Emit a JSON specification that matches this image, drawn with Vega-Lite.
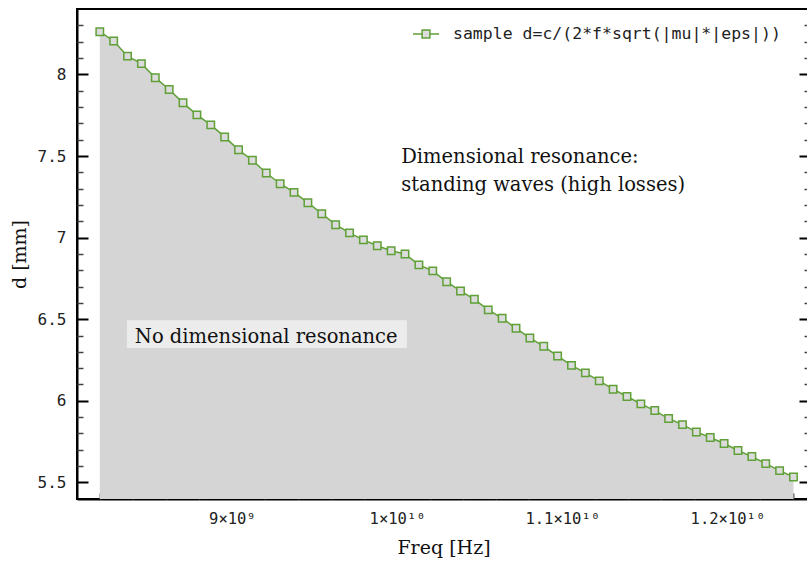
{
  "$schema": "https://vega.github.io/schema/vega-lite/v6.json",
  "width": 733,
  "height": 490,
  "padding": {"left": 10, "top": 9, "right": 0, "bottom": 5},
  "background": "white",
  "config": {
    "view": {"stroke": "black", "strokeWidth": 2},
    "axis": {"grid": false, "domainColor": "black", "domainWidth": 2, "zindex": 1, "labelOverlap": false}
  },
  "resolve": {"axis": {"x": "independent", "y": "independent"}},
  "datasets": {
    "curve": [
      {"f": 8200000000, "d": 8.262}, {"f": 8284000000, "d": 8.205}, {"f": 8368000000, "d": 8.112},
      {"f": 8452000000, "d": 8.066}, {"f": 8536000000, "d": 7.980}, {"f": 8620000000, "d": 7.908},
      {"f": 8704000000, "d": 7.826}, {"f": 8788000000, "d": 7.752}, {"f": 8872000000, "d": 7.691},
      {"f": 8956000000, "d": 7.617}, {"f": 9040000000, "d": 7.538}, {"f": 9124000000, "d": 7.474},
      {"f": 9208000000, "d": 7.396}, {"f": 9292000000, "d": 7.330}, {"f": 9376000000, "d": 7.277},
      {"f": 9460000000, "d": 7.214}, {"f": 9544000000, "d": 7.146}, {"f": 9628000000, "d": 7.079},
      {"f": 9712000000, "d": 7.029}, {"f": 9796000000, "d": 6.986}, {"f": 9880000000, "d": 6.950},
      {"f": 9964000000, "d": 6.919}, {"f": 10048000000, "d": 6.900}, {"f": 10132000000, "d": 6.833},
      {"f": 10216000000, "d": 6.796}, {"f": 10300000000, "d": 6.729}, {"f": 10384000000, "d": 6.673},
      {"f": 10468000000, "d": 6.622}, {"f": 10552000000, "d": 6.557}, {"f": 10636000000, "d": 6.506},
      {"f": 10720000000, "d": 6.444}, {"f": 10804000000, "d": 6.385}, {"f": 10888000000, "d": 6.334},
      {"f": 10972000000, "d": 6.274}, {"f": 11056000000, "d": 6.217}, {"f": 11140000000, "d": 6.171},
      {"f": 11224000000, "d": 6.122}, {"f": 11308000000, "d": 6.071}, {"f": 11392000000, "d": 6.026},
      {"f": 11476000000, "d": 5.981}, {"f": 11560000000, "d": 5.940}, {"f": 11644000000, "d": 5.891},
      {"f": 11728000000, "d": 5.854}, {"f": 11812000000, "d": 5.809}, {"f": 11896000000, "d": 5.775},
      {"f": 11980000000, "d": 5.738}, {"f": 12064000000, "d": 5.695}, {"f": 12148000000, "d": 5.658},
      {"f": 12232000000, "d": 5.615}, {"f": 12316000000, "d": 5.572}, {"f": 12400000000, "d": 5.533}
    ],
    "box": [{"f1": 8364400000, "f2": 10059300000, "d1": 6.3235, "d2": 6.493}],
    "note1": [{"f": 9207600000, "d": 6.356, "label": "No dimensional resonance"}],
    "note2": [{"f": 10024800000, "d": 7.459, "label": "Dimensional resonance:\nstanding waves (high losses)"}]
  },
  "layer": [
    {
      "data": {"name": "curve"},
      "mark": {"type": "area", "color": "#d5d5d5", "interpolate": "linear", "clip": true},
      "encoding": {
        "x": {
          "field": "f", "type": "quantitative",
          "scale": {"domain": [8062000000, 12500000000], "nice": false, "zero": false},
          "axis": {
            "orient": "bottom",
            "title": "Freq [Hz]",
            "titleFont": "DejaVu Serif", "titleFontSize": 19, "titleFontWeight": "normal", "titleColor": "#111",
            "titlePadding": 12,
            "labelOverlap": false,
            "values": [9000000000, 10000000000, 11000000000, 12000000000],
            "labelExpr": "datum.value == 9000000000 ? '9×10⁹' : datum.value == 10000000000 ? '1×10¹⁰' : datum.value == 11000000000 ? '1.1×10¹⁰' : '1.2×10¹⁰'",
            "labelFont": "DejaVu Sans Mono", "labelFontSize": 15.5, "labelColor": "#222",
            "labelPadding": 23,
            "tickSize": -11,
            "tickColor": {"condition": {"test": "datum.value > 0", "value": "black"}, "value": "black"},
            "tickWidth": {"condition": {"test": "datum.value > 0", "value": 2}, "value": 2},
            "grid": true, "gridColor": "black", "gridWidth": 2, "gridOpacity": 1, "gridDash": [0, 479, 11, 3000]
          }
        },
        "y": {
          "field": "d", "type": "quantitative",
          "scale": {"domain": [5.398, 8.401], "nice": false, "zero": false},
          "axis": {
            "orient": "left",
            "title": "d [mm]",
            "titleFont": "DejaVu Serif", "titleFontSize": 19, "titleFontWeight": "normal", "titleColor": "#111",
            "titlePadding": 7.7,
            "labelOverlap": false,
            "values": [5.5, 6, 6.5, 7, 7.5, 8],
            "labelExpr": "format(datum.value, '~g')",
            "labelFont": "DejaVu Sans Mono", "labelFontSize": 16, "labelColor": "#222",
            "labelPadding": 22,
            "tickSize": -11,
            "tickColor": {"condition": {"test": "datum.value > 0", "value": "black"}, "value": "black"},
            "tickWidth": {"condition": {"test": "datum.value > 0", "value": 2}, "value": 2},
            "grid": true, "gridColor": "black", "gridWidth": 2, "gridOpacity": 1, "gridDash": [0, 722, 11, 3000]
          }
        },
        "y2": {"datum": 5.398}
      }
    },
    {
      "data": {"name": "box"},
      "mark": {"type": "rect", "color": "#ececec"},
      "encoding": {
        "x": {"field": "f1", "type": "quantitative", "axis": null},
        "x2": {"field": "f2"},
        "y": {"field": "d1", "type": "quantitative", "axis": null},
        "y2": {"field": "d2"}
      }
    },
    {
      "data": {"name": "note1"},
      "mark": {"type": "text", "font": "DejaVu Serif", "fontSize": 19.5, "color": "#111", "align": "center", "baseline": "alphabetic"},
      "encoding": {
        "x": {"field": "f", "type": "quantitative", "axis": null},
        "y": {"field": "d", "type": "quantitative", "axis": null},
        "text": {"field": "label"}
      }
    },
    {
      "data": {"name": "note2"},
      "mark": {"type": "text", "font": "DejaVu Serif", "fontSize": 19.5, "color": "#111", "align": "left", "baseline": "alphabetic", "lineBreak": "\n", "lineHeight": 28},
      "encoding": {
        "x": {"field": "f", "type": "quantitative", "axis": null},
        "y": {"field": "d", "type": "quantitative", "axis": null},
        "text": {"field": "label"}
      }
    },
    {
      "data": {"name": "curve"},
      "mark": {"type": "line", "strokeWidth": 1.5},
      "encoding": {
        "x": {"field": "f", "type": "quantitative", "axis": null},
        "y": {"field": "d", "type": "quantitative", "axis": null},
        "color": {
          "datum": "sample d=c/(2*f*sqrt(|mu|*|eps|))",
          "type": "nominal",
          "scale": {"range": ["#5fa037"]},
          "legend": {
            "title": null, "orient": "none", "legendX": 335, "legendY": 11, "padding": 0,
            "symbolType": "M-1,0H-0.3M0.3,0H1M-0.3,-0.3H0.3V0.3H-0.3Z",
            "symbolSize": 676, "symbolStrokeWidth": 1.5, "symbolFillColor": "#dcdcdc",
            "labelFont": "DejaVu Sans Mono", "labelFontSize": 16.5, "labelColor": "#222", "labelOffset": 13, "labelLimit": 500
          }
        }
      }
    },
    {
      "data": {"name": "curve"},
      "mark": {"type": "point", "shape": "square", "size": 55, "filled": false, "fill": "#dcdcdc", "fillOpacity": 1, "stroke": "#5fa037", "strokeWidth": 1.5, "opacity": 1},
      "encoding": {
        "x": {
          "field": "f", "type": "quantitative",
          "axis": {
            "orient": "bottom", "title": null, "labels": false, "domain": false,
            "values": [8200000000, 8400000000, 8600000000, 8800000000, 9200000000, 9400000000, 9600000000, 9800000000, 10200000000, 10400000000, 10600000000, 10800000000, 11200000000, 11400000000, 11600000000, 11800000000, 12200000000, 12400000000],
            "tickSize": -6,
            "tickColor": {"condition": {"test": "datum.value > 0", "value": "#444"}, "value": "#444"},
            "tickWidth": {"condition": {"test": "datum.value > 0", "value": 1.5}, "value": 1.5},
            "grid": true, "gridColor": "#444", "gridWidth": 1.5, "gridOpacity": 1, "gridDash": [0, 484, 6, 3000]
          }
        },
        "y": {
          "field": "d", "type": "quantitative",
          "axis": {
            "orient": "left", "title": null, "labels": false, "domain": false,
            "values": [5.6, 5.7, 5.8, 5.9, 6.1, 6.2, 6.3, 6.4, 6.6, 6.7, 6.8, 6.9, 7.1, 7.2, 7.3, 7.4, 7.6, 7.7, 7.8, 7.9, 8.1, 8.2, 8.3],
            "tickSize": -6,
            "tickColor": {"condition": {"test": "datum.value > 0", "value": "#444"}, "value": "#444"},
            "tickWidth": {"condition": {"test": "datum.value > 0", "value": 1.5}, "value": 1.5},
            "grid": true, "gridColor": "#444", "gridWidth": 1.5, "gridOpacity": 1, "gridDash": [0, 727, 6, 3000]
          }
        }
      }
    }
  ]
}
